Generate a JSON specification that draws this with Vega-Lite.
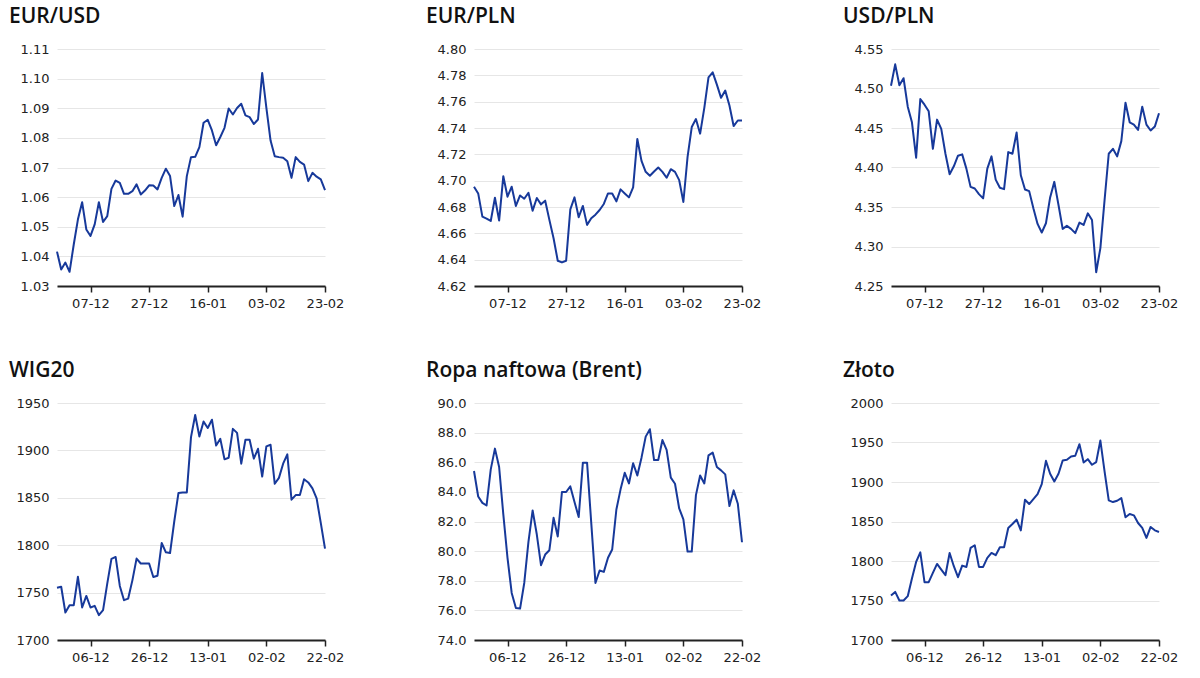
{
  "$schema": "https://vega.github.io/schema/vega-lite/v6.json",
  "padding": {"left": 9, "top": 6, "right": 0, "bottom": 0},
  "background": "white",
  "config": {
    "view": {"stroke": null},
    "concat": {"spacing": 82},
    "line": {"color": "#17399a", "strokeWidth": 2, "strokeJoin": "round"},
    "axisY": {"domain": false, "ticks": false, "labelFont": "DejaVu Sans", "labelFontSize": 13, "labelColor": "#222222", "gridColor": "#e6e6e6", "gridWidth": 1, "labelPadding": 8, "minExtent": 48, "maxExtent": 48, "title": null},
    "axisX": {"grid": false, "domainColor": "#222222", "domainWidth": 2, "tickColor": "#222222", "tickSize": 6, "tickWidth": 1.5, "labelPadding": 5, "labelFont": "DejaVu Sans", "labelFontSize": 13, "labelColor": "#222222", "labelAngle": 0, "title": null},
    "title": {"anchor": "start", "frame": "bounds", "font": "Open Sans", "fontSize": 21, "fontWeight": 600, "color": "#111111", "offset": 16}
  },
  "datasets": {
    "eurusd": [
      {"d":"25-11","v":1.0416},{"d":"28-11","v":1.0356},{"d":"29-11","v":1.0379},{"d":"30-11","v":1.0348},{"d":"01-12","v":1.044},{"d":"02-12","v":1.0525},{"d":"05-12","v":1.0583},{"d":"06-12","v":1.0491},{"d":"07-12","v":1.0469},{"d":"08-12","v":1.0508},{"d":"09-12","v":1.0583},{"d":"12-12","v":1.0516},{"d":"13-12","v":1.0536},{"d":"14-12","v":1.0628},{"d":"15-12","v":1.0656},{"d":"16-12","v":1.0648},{"d":"19-12","v":1.0611},{"d":"20-12","v":1.0611},{"d":"21-12","v":1.062},{"d":"22-12","v":1.0643},{"d":"23-12","v":1.0609},{"d":"26-12","v":1.0622},{"d":"27-12","v":1.064},{"d":"28-12","v":1.0639},{"d":"29-12","v":1.0626},{"d":"30-12","v":1.0665},{"d":"02-01","v":1.0696},{"d":"03-01","v":1.0671},{"d":"04-01","v":1.057},{"d":"05-01","v":1.0607},{"d":"06-01","v":1.0534},{"d":"09-01","v":1.0671},{"d":"10-01","v":1.0735},{"d":"11-01","v":1.0736},{"d":"12-01","v":1.0769},{"d":"13-01","v":1.0851},{"d":"16-01","v":1.0861},{"d":"17-01","v":1.0825},{"d":"18-01","v":1.0775},{"d":"19-01","v":1.0803},{"d":"20-01","v":1.0834},{"d":"23-01","v":1.0899},{"d":"24-01","v":1.0879},{"d":"25-01","v":1.0901},{"d":"26-01","v":1.0915},{"d":"27-01","v":1.0876},{"d":"30-01","v":1.087},{"d":"31-01","v":1.0847},{"d":"01-02","v":1.0862},{"d":"02-02","v":1.1019},{"d":"03-02","v":1.0901},{"d":"06-02","v":1.0791},{"d":"07-02","v":1.0738},{"d":"08-02","v":1.0735},{"d":"09-02","v":1.0733},{"d":"10-02","v":1.0721},{"d":"13-02","v":1.0665},{"d":"14-02","v":1.0735},{"d":"15-02","v":1.0719},{"d":"16-02","v":1.071},{"d":"17-02","v":1.0654},{"d":"20-02","v":1.0682},{"d":"21-02","v":1.0669},{"d":"22-02","v":1.066},{"d":"23-02","v":1.0624}
    ],
    "eurpln": [
      {"d":"25-11","v":4.6954},{"d":"28-11","v":4.6903},{"d":"29-11","v":4.6727},{"d":"30-11","v":4.6712},{"d":"01-12","v":4.6694},{"d":"02-12","v":4.687},{"d":"05-12","v":4.6697},{"d":"06-12","v":4.7034},{"d":"07-12","v":4.6878},{"d":"08-12","v":4.6954},{"d":"09-12","v":4.6808},{"d":"12-12","v":4.6888},{"d":"13-12","v":4.6863},{"d":"14-12","v":4.6908},{"d":"15-12","v":4.6772},{"d":"16-12","v":4.6868},{"d":"19-12","v":4.682},{"d":"20-12","v":4.6848},{"d":"21-12","v":4.6702},{"d":"22-12","v":4.6563},{"d":"23-12","v":4.6392},{"d":"26-12","v":4.6379},{"d":"27-12","v":4.6392},{"d":"28-12","v":4.6782},{"d":"29-12","v":4.6873},{"d":"30-12","v":4.6722},{"d":"02-01","v":4.6808},{"d":"03-01","v":4.6664},{"d":"04-01","v":4.6714},{"d":"05-01","v":4.6742},{"d":"06-01","v":4.6777},{"d":"09-01","v":4.6823},{"d":"10-01","v":4.6903},{"d":"11-01","v":4.6903},{"d":"12-01","v":4.6843},{"d":"13-01","v":4.6934},{"d":"16-01","v":4.6903},{"d":"17-01","v":4.6873},{"d":"18-01","v":4.6949},{"d":"19-01","v":4.7316},{"d":"20-01","v":4.715},{"d":"23-01","v":4.7067},{"d":"24-01","v":4.7037},{"d":"25-01","v":4.707},{"d":"26-01","v":4.71},{"d":"27-01","v":4.7067},{"d":"30-01","v":4.7022},{"d":"31-01","v":4.7087},{"d":"01-02","v":4.7067},{"d":"02-02","v":4.7004},{"d":"03-02","v":4.6838},{"d":"06-02","v":4.718},{"d":"07-02","v":4.7407},{"d":"08-02","v":4.7468},{"d":"09-02","v":4.7357},{"d":"10-02","v":4.7553},{"d":"13-02","v":4.7785},{"d":"14-02","v":4.7823},{"d":"15-02","v":4.7729},{"d":"16-02","v":4.7629},{"d":"17-02","v":4.7684},{"d":"20-02","v":4.7571},{"d":"21-02","v":4.7415},{"d":"22-02","v":4.7457},{"d":"23-02","v":4.7457}
    ],
    "usdpln": [
      {"d":"25-11","v":4.5034},{"d":"28-11","v":4.5306},{"d":"29-11","v":4.5042},{"d":"30-11","v":4.513},{"d":"01-12","v":4.477},{"d":"02-12","v":4.4572},{"d":"05-12","v":4.4124},{"d":"06-12","v":4.4866},{"d":"07-12","v":4.4795},{"d":"08-12","v":4.4711},{"d":"09-12","v":4.4237},{"d":"12-12","v":4.4606},{"d":"13-12","v":4.4489},{"d":"14-12","v":4.4174},{"d":"15-12","v":4.3915},{"d":"16-12","v":4.4015},{"d":"19-12","v":4.4149},{"d":"20-12","v":4.4166},{"d":"21-12","v":4.3986},{"d":"22-12","v":4.3755},{"d":"23-12","v":4.3734},{"d":"26-12","v":4.3663},{"d":"27-12","v":4.3609},{"d":"28-12","v":4.3986},{"d":"29-12","v":4.4141},{"d":"30-12","v":4.3847},{"d":"02-01","v":4.3743},{"d":"03-01","v":4.3726},{"d":"04-01","v":4.4195},{"d":"05-01","v":4.4174},{"d":"06-01","v":4.4443},{"d":"09-01","v":4.3902},{"d":"10-01","v":4.3722},{"d":"11-01","v":4.3701},{"d":"12-01","v":4.3483},{"d":"13-01","v":4.3286},{"d":"16-01","v":4.3177},{"d":"17-01","v":4.3294},{"d":"18-01","v":4.3621},{"d":"19-01","v":4.3818},{"d":"20-01","v":4.3525},{"d":"23-01","v":4.3223},{"d":"24-01","v":4.3261},{"d":"25-01","v":4.3223},{"d":"26-01","v":4.3169},{"d":"27-01","v":4.3303},{"d":"30-01","v":4.3273},{"d":"31-01","v":4.342},{"d":"01-02","v":4.3336},{"d":"02-02","v":4.2674},{"d":"03-02","v":4.298},{"d":"06-02","v":4.3588},{"d":"07-02","v":4.4174},{"d":"08-02","v":4.4237},{"d":"09-02","v":4.4141},{"d":"10-02","v":4.4334},{"d":"13-02","v":4.482},{"d":"14-02","v":4.4572},{"d":"15-02","v":4.4543},{"d":"16-02","v":4.4476},{"d":"17-02","v":4.477},{"d":"20-02","v":4.4543},{"d":"21-02","v":4.4468},{"d":"22-02","v":4.4518},{"d":"23-02","v":4.4686}
    ],
    "wig20": [
      {"d":"24-11","v":1755.2},{"d":"25-11","v":1756.2},{"d":"28-11","v":1729},{"d":"29-11","v":1736.7},{"d":"30-11","v":1736.7},{"d":"01-12","v":1766.7},{"d":"02-12","v":1734.3},{"d":"05-12","v":1746.5},{"d":"06-12","v":1734.3},{"d":"07-12","v":1736},{"d":"08-12","v":1726.2},{"d":"09-12","v":1731.5},{"d":"12-12","v":1759.4},{"d":"13-12","v":1785.6},{"d":"14-12","v":1787.6},{"d":"15-12","v":1757},{"d":"16-12","v":1742},{"d":"19-12","v":1743.7},{"d":"20-12","v":1762.9},{"d":"21-12","v":1785.9},{"d":"22-12","v":1780.7},{"d":"23-12","v":1780.7},{"d":"26-12","v":1780.7},{"d":"27-12","v":1766.4},{"d":"28-12","v":1767.8},{"d":"29-12","v":1802.3},{"d":"30-12","v":1792.5},{"d":"02-01","v":1791.8},{"d":"03-01","v":1825},{"d":"04-01","v":1855},{"d":"05-01","v":1855.7},{"d":"06-01","v":1855.7},{"d":"09-01","v":1914},{"d":"10-01","v":1937.3},{"d":"11-01","v":1914.7},{"d":"12-01","v":1930.4},{"d":"13-01","v":1923.7},{"d":"16-01","v":1932.4},{"d":"17-01","v":1905.2},{"d":"18-01","v":1912.2},{"d":"19-01","v":1890.6},{"d":"20-01","v":1892.3},{"d":"23-01","v":1922.7},{"d":"24-01","v":1918.5},{"d":"25-01","v":1886},{"d":"26-01","v":1911.2},{"d":"27-01","v":1911.2},{"d":"30-01","v":1891.3},{"d":"31-01","v":1901.7},{"d":"01-02","v":1872.4},{"d":"02-02","v":1904.2},{"d":"03-02","v":1905.9},{"d":"06-02","v":1864.8},{"d":"07-02","v":1871},{"d":"08-02","v":1886},{"d":"09-02","v":1895.8},{"d":"10-02","v":1848},{"d":"13-02","v":1852.9},{"d":"14-02","v":1852.9},{"d":"15-02","v":1869.6},{"d":"16-02","v":1866.2},{"d":"17-02","v":1859.9},{"d":"20-02","v":1849.4},{"d":"21-02","v":1823.2},{"d":"22-02","v":1796.4}
    ],
    "brent": [
      {"d":"24-11","v":85.41},{"d":"25-11","v":83.69},{"d":"28-11","v":83.26},{"d":"29-11","v":83.08},{"d":"30-11","v":85.52},{"d":"01-12","v":86.92},{"d":"02-12","v":85.68},{"d":"05-12","v":82.48},{"d":"06-12","v":79.55},{"d":"07-12","v":77.18},{"d":"08-12","v":76.16},{"d":"09-12","v":76.12},{"d":"12-12","v":77.85},{"d":"13-12","v":80.63},{"d":"14-12","v":82.75},{"d":"15-12","v":81.12},{"d":"16-12","v":79.05},{"d":"19-12","v":79.77},{"d":"20-12","v":80.06},{"d":"21-12","v":82.25},{"d":"22-12","v":80.99},{"d":"23-12","v":83.99},{"d":"26-12","v":83.99},{"d":"27-12","v":84.37},{"d":"28-12","v":83.31},{"d":"29-12","v":82.3},{"d":"30-12","v":85.97},{"d":"02-01","v":85.97},{"d":"03-01","v":81.91},{"d":"04-01","v":77.85},{"d":"05-01","v":78.69},{"d":"06-01","v":78.6},{"d":"09-01","v":79.55},{"d":"10-01","v":80.11},{"d":"11-01","v":82.81},{"d":"12-01","v":84.17},{"d":"13-01","v":85.29},{"d":"16-01","v":84.57},{"d":"17-01","v":85.93},{"d":"18-01","v":85.11},{"d":"19-01","v":86.31},{"d":"20-01","v":87.73},{"d":"23-01","v":88.23},{"d":"24-01","v":86.15},{"d":"25-01","v":86.15},{"d":"26-01","v":87.5},{"d":"27-01","v":86.83},{"d":"30-01","v":84.96},{"d":"31-01","v":84.55},{"d":"01-02","v":82.88},{"d":"02-02","v":82.14},{"d":"03-02","v":79.97},{"d":"06-02","v":79.97},{"d":"07-02","v":83.78},{"d":"08-02","v":85.11},{"d":"09-02","v":84.57},{"d":"10-02","v":86.47},{"d":"13-02","v":86.65},{"d":"14-02","v":85.68},{"d":"15-02","v":85.45},{"d":"16-02","v":85.18},{"d":"17-02","v":83.04},{"d":"20-02","v":84.1},{"d":"21-02","v":83.2},{"d":"22-02","v":80.6}
    ],
    "zloto": [
      {"d":"24-11","v":1756.3},{"d":"25-11","v":1760.9},{"d":"28-11","v":1750},{"d":"29-11","v":1750},{"d":"30-11","v":1755.5},{"d":"01-12","v":1777.8},{"d":"02-12","v":1798.8},{"d":"05-12","v":1811},{"d":"06-12","v":1773.2},{"d":"07-12","v":1773.2},{"d":"08-12","v":1784.9},{"d":"09-12","v":1796.3},{"d":"12-12","v":1789.1},{"d":"13-12","v":1782},{"d":"14-12","v":1810.2},{"d":"15-12","v":1793.4},{"d":"16-12","v":1779.5},{"d":"19-12","v":1794.2},{"d":"20-12","v":1792.5},{"d":"21-12","v":1816.5},{"d":"22-12","v":1819.9},{"d":"23-12","v":1792.5},{"d":"26-12","v":1792.5},{"d":"27-12","v":1803.9},{"d":"28-12","v":1810.2},{"d":"29-12","v":1807.3},{"d":"30-12","v":1817.4},{"d":"02-01","v":1817.4},{"d":"03-01","v":1841.8},{"d":"04-01","v":1846.8},{"d":"05-01","v":1852.3},{"d":"06-01","v":1838.8},{"d":"09-01","v":1877.6},{"d":"10-01","v":1872.1},{"d":"11-01","v":1878.4},{"d":"12-01","v":1884.7},{"d":"13-01","v":1897.4},{"d":"16-01","v":1926.8},{"d":"17-01","v":1910.4},{"d":"18-01","v":1900.7},{"d":"19-01","v":1910.4},{"d":"20-01","v":1927.3},{"d":"23-01","v":1928.1},{"d":"24-01","v":1932.3},{"d":"25-01","v":1933.2},{"d":"26-01","v":1947.9},{"d":"27-01","v":1924.7},{"d":"30-01","v":1928.9},{"d":"31-01","v":1921.8},{"d":"01-02","v":1925.2},{"d":"02-02","v":1952.5},{"d":"03-02","v":1913.4},{"d":"06-02","v":1876.7},{"d":"07-02","v":1874.6},{"d":"08-02","v":1876.3},{"d":"09-02","v":1879.7},{"d":"10-02","v":1855.3},{"d":"13-02","v":1859.5},{"d":"14-02","v":1857.8},{"d":"15-02","v":1848.1},{"d":"16-02","v":1841.8},{"d":"17-02","v":1829.2},{"d":"20-02","v":1843.1},{"d":"21-02","v":1838.8},{"d":"22-02","v":1836.7}
    ]
  },
  "vconcat": [
    {
      "hconcat": [
        {
          "title": "EUR/USD",
          "data": {"name": "eurusd"},
          "width": 268, "height": 237,
          "mark": "line",
          "encoding": {
            "x": {"field": "d", "type": "ordinal", "sort": null, "scale": {"type": "point", "padding": 0}, "axis": {"values": ["07-12","27-12","16-01","03-02","23-02"]}},
            "y": {"field": "v", "type": "quantitative", "scale": {"domain": [1.03, 1.11], "nice": false, "zero": false}, "axis": {"values": [1.03,1.04,1.05,1.06,1.07,1.08,1.09,1.10,1.11], "format": ".2f"}}
          }
        },
        {
          "title": "EUR/PLN",
          "data": {"name": "eurpln"},
          "width": 268, "height": 237,
          "mark": "line",
          "encoding": {
            "x": {"field": "d", "type": "ordinal", "sort": null, "scale": {"type": "point", "padding": 0}, "axis": {"values": ["07-12","27-12","16-01","03-02","23-02"]}},
            "y": {"field": "v", "type": "quantitative", "scale": {"domain": [4.62, 4.80], "nice": false, "zero": false}, "axis": {"values": [4.62,4.64,4.66,4.68,4.70,4.72,4.74,4.76,4.78,4.80], "format": ".2f"}}
          }
        },
        {
          "title": "USD/PLN",
          "data": {"name": "usdpln"},
          "width": 268, "height": 237,
          "mark": "line",
          "encoding": {
            "x": {"field": "d", "type": "ordinal", "sort": null, "scale": {"type": "point", "padding": 0}, "axis": {"values": ["07-12","27-12","16-01","03-02","23-02"]}},
            "y": {"field": "v", "type": "quantitative", "scale": {"domain": [4.25, 4.55], "nice": false, "zero": false}, "axis": {"values": [4.25,4.30,4.35,4.40,4.45,4.50,4.55], "format": ".2f"}}
          }
        }
      ]
    },
    {
      "hconcat": [
        {
          "title": "WIG20",
          "data": {"name": "wig20"},
          "width": 268, "height": 237,
          "mark": "line",
          "encoding": {
            "x": {"field": "d", "type": "ordinal", "sort": null, "scale": {"type": "point", "padding": 0}, "axis": {"values": ["06-12","26-12","13-01","02-02","22-02"]}},
            "y": {"field": "v", "type": "quantitative", "scale": {"domain": [1700, 1950], "nice": false, "zero": false}, "axis": {"values": [1700,1750,1800,1850,1900,1950], "format": "d"}}
          }
        },
        {
          "title": "Ropa naftowa (Brent)",
          "data": {"name": "brent"},
          "width": 268, "height": 237,
          "mark": "line",
          "encoding": {
            "x": {"field": "d", "type": "ordinal", "sort": null, "scale": {"type": "point", "padding": 0}, "axis": {"values": ["06-12","26-12","13-01","02-02","22-02"]}},
            "y": {"field": "v", "type": "quantitative", "scale": {"domain": [74, 90], "nice": false, "zero": false}, "axis": {"values": [74,76,78,80,82,84,86,88,90], "format": ".1f"}}
          }
        },
        {
          "title": "Złoto",
          "data": {"name": "zloto"},
          "width": 268, "height": 237,
          "mark": "line",
          "encoding": {
            "x": {"field": "d", "type": "ordinal", "sort": null, "scale": {"type": "point", "padding": 0}, "axis": {"values": ["06-12","26-12","13-01","02-02","22-02"]}},
            "y": {"field": "v", "type": "quantitative", "scale": {"domain": [1700, 2000], "nice": false, "zero": false}, "axis": {"values": [1700,1750,1800,1850,1900,1950,2000], "format": "d"}}
          }
        }
      ]
    }
  ],
  "spacing": 50
}
